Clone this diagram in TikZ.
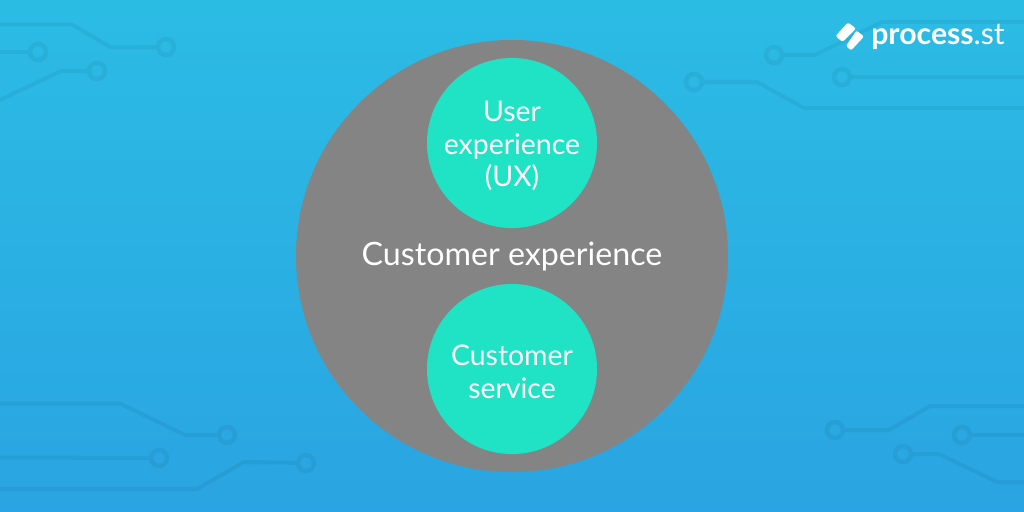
\documentclass[tikz,border=0pt]{standalone}
\usepackage{fontspec}
\setmainfont{Lato}
\usepackage{tikz}
\usetikzlibrary{positioning, calc}
\definecolor{bgTop}{RGB}{43, 188, 228}
\definecolor{bgBottom}{RGB}{42, 164, 226}
\definecolor{outerGray}{RGB}{132, 132, 132}
\definecolor{innerTeal}{RGB}{32, 226, 197}
\tikzset{
  padnode/.style={circle, draw=black, draw opacity=0.05, line width=0.115cm,
                  minimum size=0.4cm, inner sep=0pt},
  trace/.style={draw=black, draw opacity=0.05, line width=0.1cm},
  outerdisc/.style={circle, fill=outerGray, minimum size=10.8cm, inner sep=0pt},
  innerdisc/.style={circle, fill=innerTeal, minimum size=4.25cm, inner sep=0pt},
  disclabel/.style={align=center, text=white, inner sep=0pt,
                    font=\fontsize{20.2}{23.2}\selectfont},
  mainlabel/.style={text=white, inner sep=0pt, font=\fontsize{22.9}{27}\selectfont},
  logomark/.style={fill=white, rounded corners=1.5pt},
}

\begin{document}
\begin{tikzpicture}[x=0.025cm, y=-0.025cm]
    \useasboundingbox (0,0) rectangle (1024,512);
    \shade[top color=bgTop, bottom color=bgBottom] (0,0) rectangle (1024,512);

    % top left
    \node[padnode] (PadA) at (166,47) {};
    \node[padnode] (PadB) at (38,52) {};
    \node[padnode] (PadC) at (97,71) {};
    \draw[trace] (PadA) -- (111,47.5) -- (72,24.5) -- (0,24.5);
    \draw[trace] (PadB) -- (0,52);
    \draw[trace] (PadC) -- (61,71) -- (0,100);

    % top right
    \node[padnode] (PadD) at (774,55) {};
    \node[padnode] (PadE) at (694,82) {};
    \node[padnode] (PadF) at (842,77) {};
    \draw[trace] (PadD) -- (815,55) -- (882,22) -- (1024,22);
    \draw[trace] (PadE) -- (757,82) -- (804,108) -- (1024,108);
    \draw[trace] (PadF) -- (1024,77);

    % bottom left
    \node[padnode] (PadG) at (227,435) {};
    \node[padnode] (PadH) at (159,458) {};
    \node[padnode] (PadI) at (306,463) {};
    \draw[trace] (PadG) -- (185,435) -- (120,403.5) -- (0,403.5);
    \draw[trace] (PadH) -- (0,457.5);
    \draw[trace] (PadI) -- (244,462) -- (197,489) -- (0,489);

    % bottom right
    \node[padnode] (PadJ) at (835,430) {};
    \node[padnode] (PadK) at (962,435) {};
    \node[padnode] (PadL) at (903,454) {};
    \draw[trace] (PadJ) -- (889,430) -- (930,406) -- (1024,406);
    \draw[trace] (PadK) -- (1024,435);
    \draw[trace] (PadL) -- (939,454) -- (997,482) -- (1024,482);

    \node[outerdisc] (Outer) at (512,256) {};
    \node[innerdisc] (UXDisc) at (512,143) {};
    \node[innerdisc] (CSDisc) at (512,369) {};
    \node[disclabel] (UX) at (512,146) {User\\experience\\(UX)};
    \node[disclabel] (CS) at (512,372) {Customer\\service};
    \node[mainlabel] (CX) at (512,256.5) {Customer experience};

    % logo
    \fill[logomark] (835.5,36) -- (848,22.5) -- (856,28.5) -- (842.5,42) -- cycle;
    \fill[logomark] (846,46) -- (856.5,30.5) -- (864,36.5) -- (851,50.5) -- cycle;
    \node[text=white, anchor=west, inner sep=0pt, font=\fontsize{21.5}{27}\selectfont]
      (Brand) at (871,36.5) {\textbf{process}.st};
  \end{tikzpicture}
\end{document}
